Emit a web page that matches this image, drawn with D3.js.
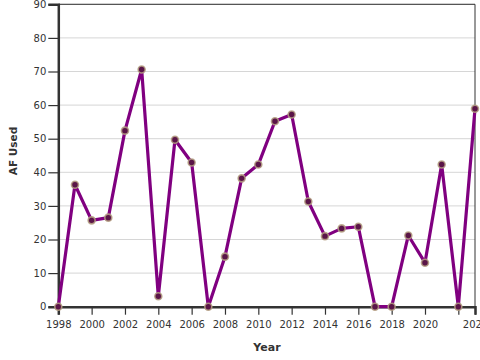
<!DOCTYPE html>
<html>
<head>
<meta charset="utf-8">
<script src="https://cdn.jsdelivr.net/npm/d3@7"></script>
<style>
  html, body { margin: 0; padding: 0; background: #fff; }
  svg { display: block; font-family: "DejaVu Sans", sans-serif; }
</style>
</head>
<body>
<svg id="chart" width="480" height="360"></svg>
<script>
const years = [1998,1999,2000,2001,2002,2003,2004,2005,2006,2007,2008,2009,2010,2011,2012,2013,2014,2015,2016,2017,2018,2019,2020,2021,2022,2023];
const afUsed = [0,36.3,25.7,26.5,52.4,70.6,3.1,49.7,42.9,0,14.9,38.2,42.3,55.2,57.2,31.3,21,23.3,23.8,0,0,21.2,13.1,42.3,0,58.9];
const xTicks = [1998,2000,2002,2004,2006,2008,2010,2012,2014,2016,2018,2020,2022,2023];
const xTickLabels = ["1998","2000","2002","2004","2006","2008","2010","2012","2014","2016","2018","2020","","2023"];
const yTicks = [0,10,20,30,40,50,60,70,80,90];

const svg = d3.select("#chart");
const L = 58.3, R = 475, T = 4.3, B = 306.7;

const x = d3.scaleLinear().domain([1998, 2023]).range([L, R]);
const y = d3.scaleLinear().domain([0, 90]).range([B, T]);

// grid
svg.append("g").selectAll("line").data(yTicks).join("line")
  .attr("x1", L).attr("x2", R)
  .attr("y1", d => y(d)).attr("y2", d => y(d))
  .attr("stroke", "#d6d6d6").attr("stroke-width", 1);

// frame top/right
svg.append("line").attr("x1", L).attr("x2", R).attr("y1", T).attr("y2", T)
  .attr("stroke", "#333").attr("stroke-width", 1);
svg.append("line").attr("x1", R).attr("x2", R).attr("y1", T).attr("y2", B)
  .attr("stroke", "#333").attr("stroke-width", 1);

// x axis
const xAxis = d3.axisBottom(x).tickValues(xTicks)
  .tickFormat((d, i) => xTickLabels[i]).tickSize(8).tickPadding(6);
const gx = svg.append("g").attr("transform", `translate(0,${B})`).call(xAxis);
gx.select(".domain").attr("stroke", "#333").attr("stroke-width", 2.5);
gx.selectAll(".tick line").attr("stroke", "#333").attr("stroke-width", 1.2);
gx.selectAll(".tick text").attr("fill", "#333").style("font-size", "10px").style("font-family", "DejaVu Sans");

// y axis
const yAxis = d3.axisLeft(y).tickValues(yTicks).tickSize(10).tickPadding(2);
const gy = svg.append("g").attr("transform", `translate(${L},0)`).call(yAxis);
gy.select(".domain").attr("stroke", "#333").attr("stroke-width", 2.5);
gy.selectAll(".tick line").attr("stroke", "#333").attr("stroke-width", 1.2);
gy.selectAll(".tick text").attr("fill", "#333").style("font-size", "10px").style("font-family", "DejaVu Sans");

// line
const data = years.map((yr, i) => ({ yr, v: afUsed[i] }));
svg.append("path").datum(data)
  .attr("fill", "none").attr("stroke", "#800080").attr("stroke-width", 3.2)
  .attr("stroke-linejoin", "round")
  .attr("d", d3.line().x(d => x(d.yr)).y(d => y(d.v)));

// points
svg.append("g").selectAll("circle").data(data).join("circle")
  .attr("cx", d => x(d.yr)).attr("cy", d => y(d.v)).attr("r", 3.5)
  .attr("fill", "#5a1548").attr("stroke", "#b5a083").attr("stroke-opacity", 0.85).attr("stroke-width", 1.6);

// titles
svg.append("text").attr("x", 267).attr("y", 351).attr("text-anchor", "middle")
  .style("font-size", "11px").style("font-weight", "bold").attr("fill", "#333").text("Year");
svg.append("text").attr("transform", "translate(17,151) rotate(-90)").attr("text-anchor", "middle")
  .style("font-size", "10.5px").style("font-weight", "bold").attr("fill", "#333").text("AF Used");
</script>
</body>
</html>
